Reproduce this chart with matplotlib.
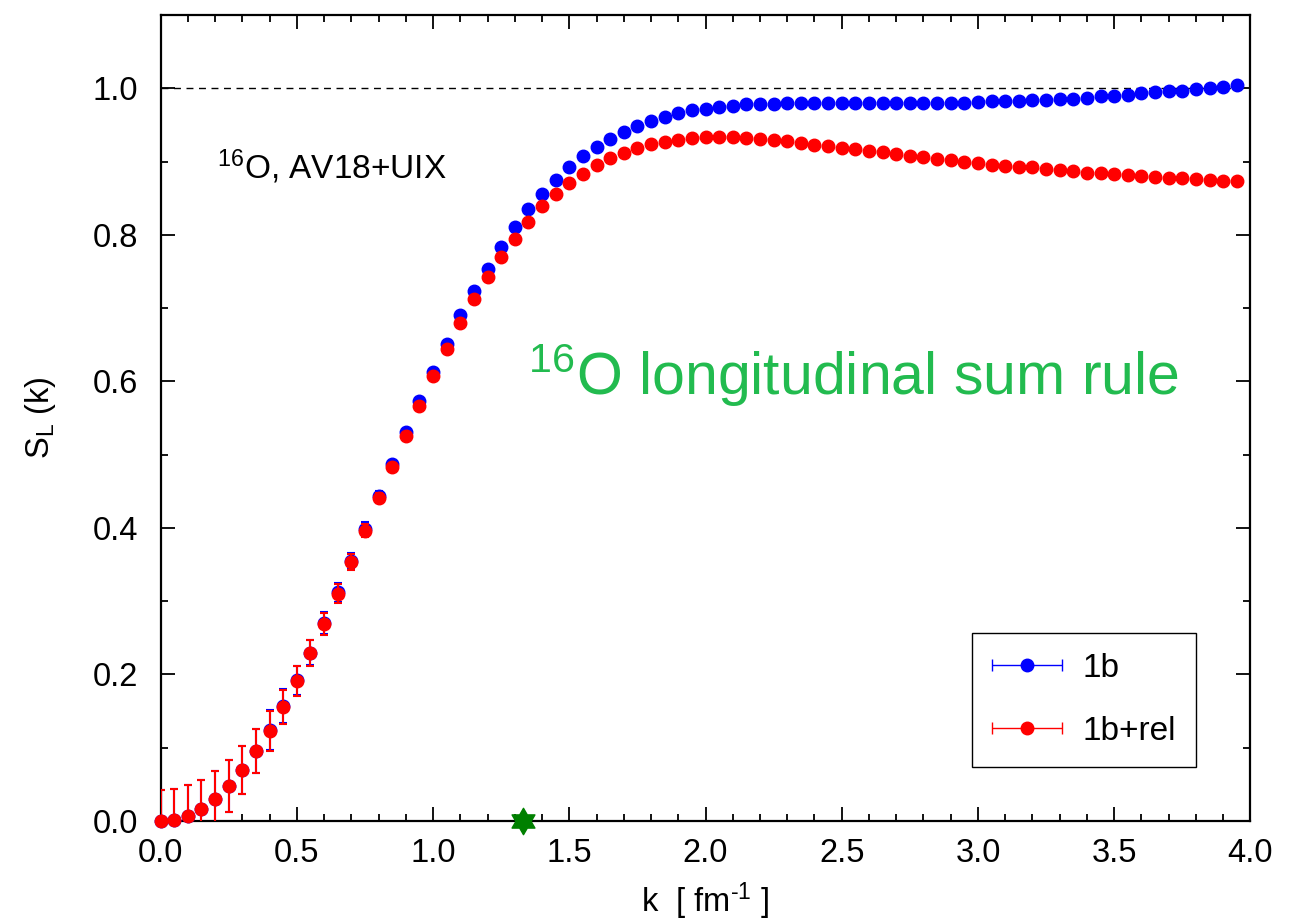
import numpy as np
import matplotlib
matplotlib.use("Agg")
import matplotlib.pyplot as plt
from matplotlib.ticker import MultipleLocator
from matplotlib.legend_handler import HandlerErrorbar
from matplotlib.path import Path

plt.rcParams['font.family'] = ['Liberation Sans', 'DejaVu Sans']
plt.rcParams['mathtext.fontset'] = 'custom'
plt.rcParams['mathtext.rm'] = 'Liberation Sans'
plt.rcParams['mathtext.it'] = 'Liberation Sans:italic'

# momentum transfer grid [fm^-1]
k = [0.00, 0.05, 0.10, 0.15, 0.20, 0.25, 0.30, 0.35, 0.40, 0.45,
     0.50, 0.55, 0.60, 0.65, 0.70, 0.75, 0.80, 0.85, 0.90, 0.95,
     1.00, 1.05, 1.10, 1.15, 1.20, 1.25, 1.30, 1.35, 1.40, 1.45,
     1.50, 1.55, 1.60, 1.65, 1.70, 1.75, 1.80, 1.85, 1.90, 1.95,
     2.00, 2.05, 2.10, 2.15, 2.20, 2.25, 2.30, 2.35, 2.40, 2.45,
     2.50, 2.55, 2.60, 2.65, 2.70, 2.75, 2.80, 2.85, 2.90, 2.95,
     3.00, 3.05, 3.10, 3.15, 3.20, 3.25, 3.30, 3.35, 3.40, 3.45,
     3.50, 3.55, 3.60, 3.65, 3.70, 3.75, 3.80, 3.85, 3.90, 3.95]

# one-body longitudinal sum rule
s_1b = [0.000, 0.002, 0.007, 0.016, 0.030, 0.048, 0.070, 0.095, 0.124, 0.157,
        0.192, 0.230, 0.270, 0.312, 0.355, 0.399, 0.444, 0.487, 0.531, 0.573,
        0.613, 0.651, 0.690, 0.723, 0.754, 0.784, 0.811, 0.835, 0.856, 0.875,
        0.892, 0.907, 0.920, 0.931, 0.941, 0.949, 0.955, 0.961, 0.966, 0.970,
        0.972, 0.974, 0.976, 0.978, 0.978, 0.979, 0.980, 0.980, 0.980, 0.980,
        0.980, 0.980, 0.980, 0.980, 0.980, 0.980, 0.980, 0.980, 0.980, 0.980,
        0.981, 0.982, 0.982, 0.983, 0.984, 0.984, 0.985, 0.986, 0.987, 0.989,
        0.990, 0.991, 0.993, 0.995, 0.996, 0.997, 0.999, 1.000, 1.002, 1.004]

# one-body plus relativistic corrections
s_rel = [0.000, 0.002, 0.007, 0.016, 0.030, 0.048, 0.070, 0.095, 0.123, 0.156,
         0.191, 0.229, 0.269, 0.310, 0.353, 0.396, 0.441, 0.483, 0.526, 0.567,
         0.607, 0.644, 0.680, 0.712, 0.742, 0.770, 0.795, 0.818, 0.839, 0.856,
         0.871, 0.883, 0.895, 0.905, 0.912, 0.918, 0.924, 0.927, 0.930, 0.932,
         0.933, 0.933, 0.933, 0.932, 0.931, 0.930, 0.928, 0.926, 0.923, 0.921,
         0.919, 0.917, 0.915, 0.913, 0.910, 0.908, 0.906, 0.904, 0.902, 0.900,
         0.898, 0.896, 0.894, 0.893, 0.892, 0.890, 0.888, 0.887, 0.885, 0.884,
         0.883, 0.882, 0.880, 0.879, 0.878, 0.878, 0.876, 0.875, 0.874, 0.873]

# statistical uncertainties (same for both series)
s_err = [0.042, 0.042, 0.042, 0.040, 0.038, 0.035, 0.033, 0.030, 0.027, 0.023,
         0.020, 0.0175, 0.015, 0.013, 0.011, 0.009, 0.007, 0.005, 0.004, 0.003,
         0.002] + [0.0] * 59

# marked momentum on the axis
star_k = [1.33]
star_s = [0.0]

fig = plt.figure(figsize=(13.06, 9.22), dpi=100)
ax = fig.add_axes([0.1229, 0.1095, 0.8346, 0.8742])

ms = 9.0
for vals, col, z in ((s_1b, '#0000ff', 3), (s_rel, '#ff0000', 4)):
    cont = ax.errorbar(k, vals, yerr=s_err, fmt='o', color=col, ms=ms,
                       elinewidth=1.5, capsize=3, capthick=1.5, zorder=z)
    # markers may spill over the frame, error bars stay inside it
    cont[0].set_clip_on(False)

# legend entries drawn as horizontal error bars
h1 = ax.errorbar([np.nan], [np.nan], xerr=[0.1], fmt='o', color='#0000ff',
                 ms=ms, elinewidth=1.0, capsize=4, capthick=1.0, label='1b')
h2 = ax.errorbar([np.nan], [np.nan], xerr=[0.1], fmt='o', color='#ff0000',
                 ms=ms, elinewidth=1.0, capsize=4, capthick=1.0, label='1b+rel')

ax.axhline(1.0, color='black', lw=1.0, ls=(0, (5, 4)), zorder=1)

# six-pointed star marker
ang_out = np.deg2rad(90 + 60 * np.arange(6))
ang_in = ang_out + np.deg2rad(30)
r_in = 1 / np.sqrt(3)
verts = []
for ao, ai in zip(ang_out, ang_in):
    verts.append((np.cos(ao), np.sin(ao)))
    verts.append((r_in * np.cos(ai), r_in * np.sin(ai)))
verts.append(verts[0])
hexagram = Path(verts, closed=True)
ax.plot(star_k, star_s, ls='none', marker=hexagram, ms=19, color='#008000',
        mec='#008000', clip_on=False, zorder=5)

ax.set_xlim(0, 4.0)
ax.set_ylim(0, 1.1)
ax.xaxis.set_major_locator(MultipleLocator(0.5))
ax.xaxis.set_minor_locator(MultipleLocator(0.1))
ax.yaxis.set_major_locator(MultipleLocator(0.2))
ax.yaxis.set_minor_locator(MultipleLocator(0.1))
ax.xaxis.set_major_formatter(plt.FormatStrFormatter('%.1f'))
ax.yaxis.set_major_formatter(plt.FormatStrFormatter('%.1f'))

ax.tick_params(which='both', direction='in', top=True, right=True, width=1.3)
ax.tick_params(which='major', length=10, labelsize=23.5)
ax.tick_params(which='minor', length=5)
ax.tick_params(axis='x', which='major', pad=12)
ax.tick_params(axis='y', which='major', pad=16)
for sp in ax.spines.values():
    sp.set_linewidth(1.6)

ax.set_xlabel(r'k  [ fm$^{\text{-1}}$ ]', fontsize=23.5)
ax.xaxis.set_label_coords(0.5, -0.074)
ax.set_ylabel(r'S$_{\mathregular{L}}$ (k)', fontsize=23.5)
ax.yaxis.set_label_coords(-0.094, 0.5)

ax.text(0.052, 0.797, r'$^{\mathregular{16}}$O, AV18+UIX', transform=ax.transAxes,
        fontsize=24, ha='left', va='baseline')
ax.text(0.3375, 0.528, r'$^{\mathregular{16}}$O longitudinal sum rule',
        transform=ax.transAxes, fontsize=42.5, color='#22bb4f',
        ha='left', va='baseline')

leg = ax.legend(handles=[h1, h2], loc='lower right',
                bbox_to_anchor=(0.9497, 0.0674), fontsize=24,
                handlelength=2.1, handletextpad=0.6, labelspacing=0.95,
                borderpad=0.6, borderaxespad=0, fancybox=False,
                framealpha=1, edgecolor='black',
                handler_map={type(h1): HandlerErrorbar(xerr_size=1.05)})
leg.get_frame().set_linewidth(1.0)

fig.savefig('out.png', dpi=100)
